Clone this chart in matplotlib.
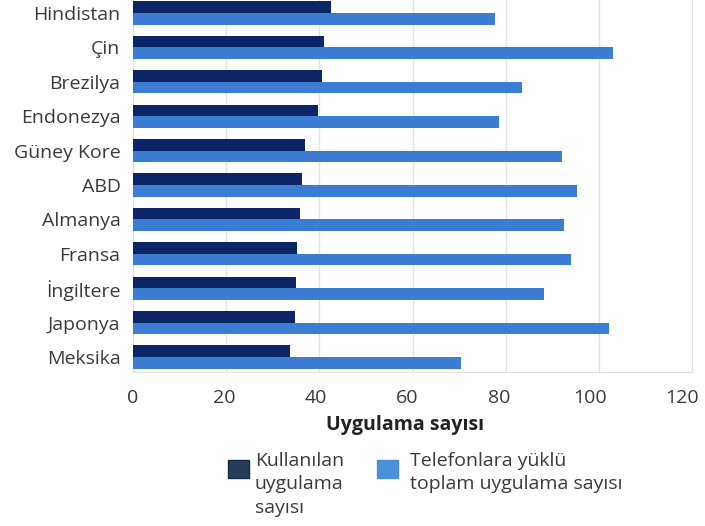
import matplotlib
matplotlib.use("Agg")
import matplotlib.pyplot as plt
from matplotlib.patches import Rectangle
from matplotlib.transforms import ScaledTranslation
import numpy as np

plt.rcParams['font.family'] = ['Open Sans', 'DejaVu Sans']

# data
countries = ["Hindistan", "Çin", "Brezilya", "Endonezya", "Güney Kore", "ABD",
             "Almanya", "Fransa", "İngiltere", "Japonya", "Meksika"]
used_apps = [42.5, 41.1, 40.6, 39.7, 36.9, 36.3, 35.9, 35.3, 35.0, 34.7, 33.8]
installed_apps = [77.7, 103.0, 83.5, 78.6, 92.2, 95.3, 92.5, 94.1, 88.2, 102.1, 70.4]
xticks = [0, 20, 40, 60, 80, 100, 120]

label_used = "Kullanılan\nuygulama\nsayısı"
label_installed = "Telefonlara yüklü\ntoplam uygulama sayısı"

dark = "#0c2566"
light = "#3b7dd3"
txt = "#3a3a3a"

W, H = 705, 526
fig = plt.figure(figsize=(W / 100, H / 100), dpi=100)
ax = fig.add_axes([133 / W, 1 - 372 / H, 559 / W, 372 / H])

y = np.arange(len(countries))
h = 0.335
ax.barh(y - h / 2, used_apps, height=h, color=dark, zorder=3)
ax.barh(y + h / 2, installed_apps, height=h, color=light, zorder=3)

ax.set_ylim(10.436, -0.378)
ax.set_xlim(0, 120)
ax.set_xticks(xticks)
ax.set_xticklabels([str(v) for v in xticks], fontsize=14, color=txt)
ax.set_yticks(y)
ax.set_yticklabels(countries, fontsize=14, color=txt)
ax.tick_params(axis='both', length=0)
ax.tick_params(axis='y', pad=9)
ax.tick_params(axis='x', pad=12)

# tick labels in the reference drift slightly left of their gridlines
for k, lab in enumerate(ax.get_xticklabels()):
    lab.set_transform(lab.get_transform() + ScaledTranslation(-k * 1.7 / 100, 0, fig.dpi_scale_trans))

ax.grid(axis='x', color='#e3e3e3', linewidth=1, zorder=0)
for s in ax.spines.values():
    s.set_color('#e0e0e0')
ax.spines['top'].set_visible(False)

fig.text(405 / W, 1 - 425 / H, "Uygulama sayısı", fontsize=14, fontweight='bold',
         color='#222222', ha='center', va='center')

# legend drawn by hand to match the reference's placement
fig.patches.append(Rectangle((228 / W, 1 - 478 / H), 21 / W, 18 / H, transform=fig.transFigure,
                             facecolor='#253c5c', edgecolor='#1a2a40', linewidth=1))
fig.patches.append(Rectangle((377 / W, 1 - 478 / H), 21 / W, 18 / H, transform=fig.transFigure,
                             facecolor='#4a8fd8', edgecolor='#4a8fd8', linewidth=1))
fig.text(255 / W, 1 - 452 / H, label_used, fontsize=14, color=txt, ha='left', va='top',
         linespacing=1.38)
fig.text(410 / W, 1 - 452 / H, label_installed, fontsize=14, color=txt, ha='left', va='top',
         linespacing=1.38)

fig.savefig("out.png", dpi=100)
